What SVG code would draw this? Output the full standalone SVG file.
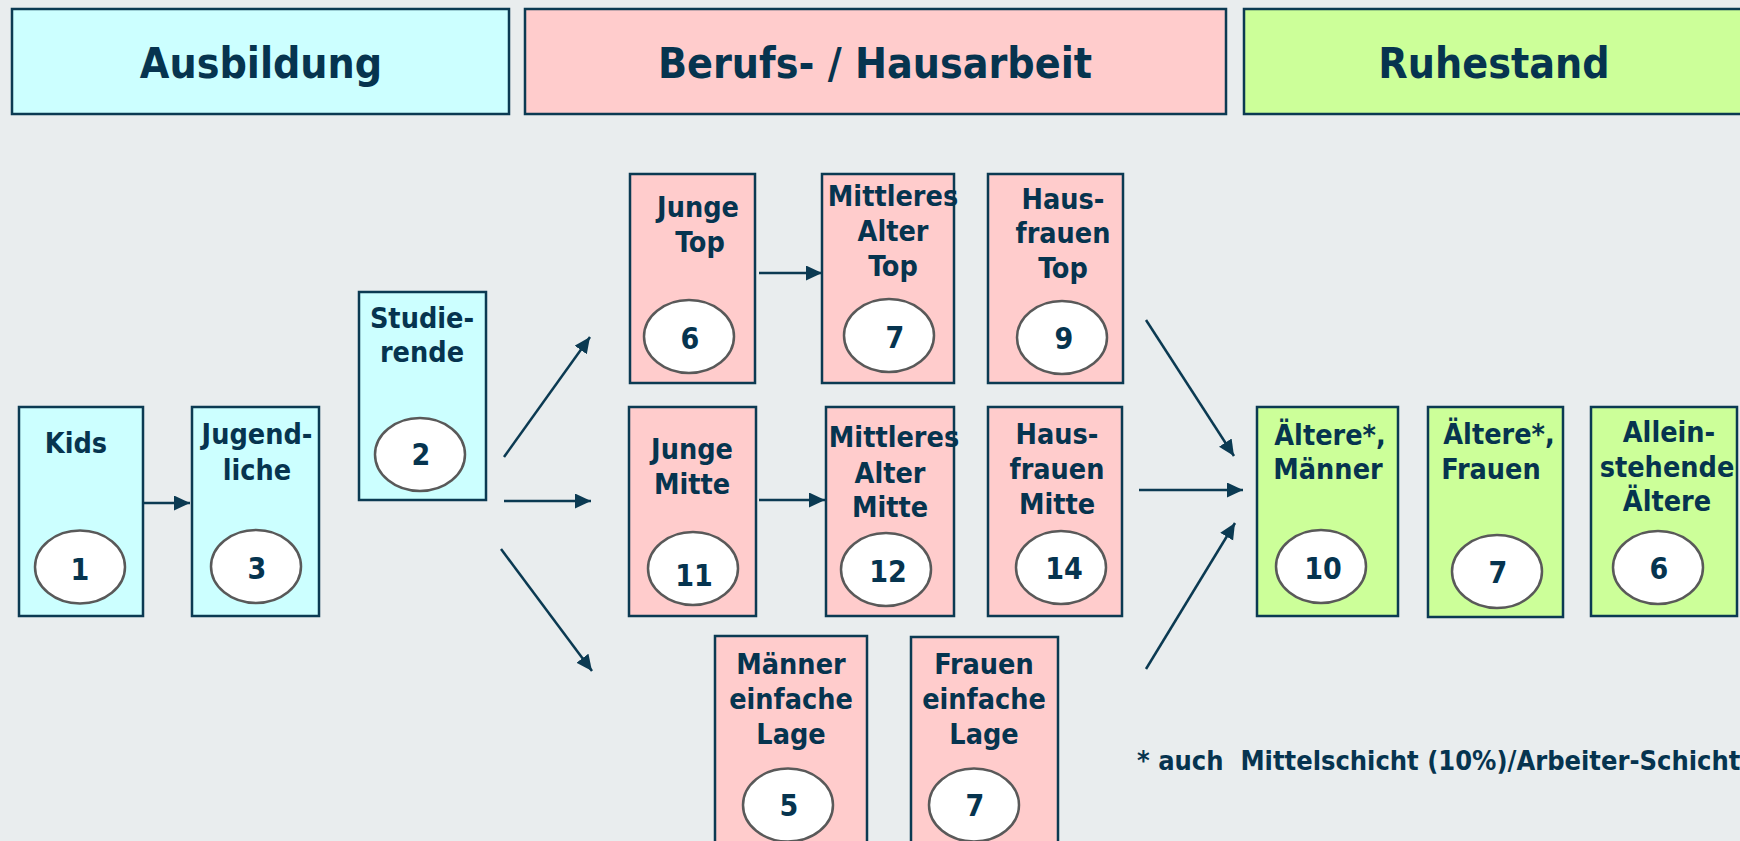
<svg xmlns="http://www.w3.org/2000/svg" width="1740" height="841" viewBox="0 0 1740 841">
<defs>
<style>
.bg{fill:#e9edee}
.box{stroke:#0b3a52;stroke-width:2.5}
.cy{fill:#ccffff}
.pk{fill:#ffcccc}
.gr{fill:#ccff99}
.t{font-family:"DejaVu Sans Condensed","DejaVu Sans",sans-serif;font-weight:bold;fill:#06344f;text-anchor:middle}
.h{font-size:42.5px}
.n{font-size:28.5px}
.num{font-size:30px}
.fn{font-size:27px;text-anchor:start;white-space:pre}
.el{fill:#ffffff;stroke:#595959;stroke-width:2.5}
.ar{stroke:#0b3a52;stroke-width:2.5;fill:none;marker-end:url(#ah)}
</style>
<marker id="ah" markerUnits="userSpaceOnUse" markerWidth="17" markerHeight="16" refX="16" refY="7.5" orient="auto">
<path d="M0,0 L16,7.5 L0,15 z" fill="#0b3a52"/>
</marker>
</defs>
<rect class="bg" x="0" y="0" width="1740" height="841"/>

<g id="header-ausbildung"><rect class="box cy" x="12" y="9" width="497" height="105"/><text class="t h" x="261" y="78">Ausbildung</text></g>
<g id="header-beruf"><rect class="box pk" x="525" y="9" width="701" height="105"/><text class="t h" x="875" y="78">Berufs- / Hausarbeit</text></g>
<g id="header-ruhestand"><rect class="box gr" x="1244" y="9" width="510" height="105"/><text class="t h" x="1494" y="78">Ruhestand</text></g>

<g id="kids"><rect class="box cy" x="19" y="407" width="124" height="209"/><text class="t n" x="76" y="453">Kids</text><ellipse class="el" cx="80" cy="567" rx="45" ry="36.5"/><text class="t num" x="80" y="580">1</text></g>
<g id="jugendliche"><rect class="box cy" x="192" y="407" width="127" height="209"/><text class="t n" x="257" y="444">Jugend-</text><text class="t n" x="257" y="480">liche</text><ellipse class="el" cx="256" cy="566.5" rx="45" ry="36.5"/><text class="t num" x="257" y="579">3</text></g>
<g id="studierende"><rect class="box cy" x="359" y="292" width="127" height="208"/><text class="t n" x="422" y="328">Studie-</text><text class="t n" x="422" y="362">rende</text><ellipse class="el" cx="420" cy="454.5" rx="45" ry="36.5"/><text class="t num" x="421" y="465">2</text></g>

<g id="junge-top"><rect class="box pk" x="630" y="174" width="125" height="209"/><text class="t n" x="698" y="217">Junge</text><text class="t n" x="700" y="252">Top</text><ellipse class="el" cx="689" cy="336.5" rx="45" ry="36.5"/><text class="t num" x="690" y="349">6</text></g>
<g id="mittleres-top"><rect class="box pk" x="822" y="174" width="132" height="209"/><text class="t n" x="893" y="206">Mittleres</text><text class="t n" x="893" y="241">Alter</text><text class="t n" x="893" y="276">Top</text><ellipse class="el" cx="889" cy="335.5" rx="45" ry="36.5"/><text class="t num" x="895" y="348">7</text></g>
<g id="hausfrauen-top"><rect class="box pk" x="988" y="174" width="135" height="209"/><text class="t n" x="1063" y="209">Haus-</text><text class="t n" x="1063" y="243">frauen</text><text class="t n" x="1063" y="278">Top</text><ellipse class="el" cx="1062" cy="337.5" rx="45" ry="36.5"/><text class="t num" x="1064" y="349">9</text></g>

<g id="junge-mitte"><rect class="box pk" x="629" y="407" width="127" height="209"/><text class="t n" x="692" y="459">Junge</text><text class="t n" x="692" y="494">Mitte</text><ellipse class="el" cx="693" cy="568.5" rx="45" ry="36.5"/><text class="t num" x="694" y="586">11</text></g>
<g id="mittleres-mitte"><rect class="box pk" x="826" y="407" width="128" height="209"/><text class="t n" x="894" y="447">Mittleres</text><text class="t n" x="890" y="483">Alter</text><text class="t n" x="890" y="517">Mitte</text><ellipse class="el" cx="886" cy="569.5" rx="45" ry="36.5"/><text class="t num" x="888" y="582">12</text></g>
<g id="hausfrauen-mitte"><rect class="box pk" x="988" y="407" width="134" height="209"/><text class="t n" x="1057" y="444">Haus-</text><text class="t n" x="1057" y="479">frauen</text><text class="t n" x="1057" y="514">Mitte</text><ellipse class="el" cx="1061" cy="567.5" rx="45" ry="36.5"/><text class="t num" x="1064" y="579">14</text></g>

<g id="maenner-einfach"><rect class="box pk" x="715" y="636" width="152" height="215"/><text class="t n" x="791" y="674">Männer</text><text class="t n" x="791" y="709">einfache</text><text class="t n" x="791" y="744">Lage</text><ellipse class="el" cx="788" cy="805" rx="45" ry="36.5"/><text class="t num" x="789" y="816">5</text></g>
<g id="frauen-einfach"><rect class="box pk" x="911" y="637" width="147" height="214"/><text class="t n" x="984" y="674">Frauen</text><text class="t n" x="984" y="709">einfache</text><text class="t n" x="984" y="744">Lage</text><ellipse class="el" cx="974" cy="805" rx="45" ry="36.5"/><text class="t num" x="975" y="816">7</text></g>

<g id="aeltere-maenner"><rect class="box gr" x="1257" y="407" width="141" height="209"/><text class="t n" x="1330" y="445">Ältere*,</text><text class="t n" x="1328" y="479">Männer</text><ellipse class="el" cx="1321" cy="566.5" rx="45" ry="36.5"/><text class="t num" x="1323" y="579">10</text></g>
<g id="aeltere-frauen"><rect class="box gr" x="1428" y="407" width="135" height="210"/><text class="t n" x="1499" y="444">Ältere*,</text><text class="t n" x="1491" y="479">Frauen</text><ellipse class="el" cx="1497" cy="571.5" rx="45" ry="36.5"/><text class="t num" x="1498" y="583">7</text></g>
<g id="alleinstehende"><rect class="box gr" x="1591" y="407" width="146" height="209"/><text class="t n" x="1669" y="442">Allein-</text><text class="t n" x="1667" y="477">stehende</text><text class="t n" x="1667" y="511">Ältere</text><ellipse class="el" cx="1658" cy="567.5" rx="45" ry="36.5"/><text class="t num" x="1659" y="579">6</text></g>

<g id="connectors">
<line class="ar" x1="144" y1="503" x2="190" y2="503"/>
<line class="ar" x1="504" y1="457" x2="590" y2="337"/>
<line class="ar" x1="504" y1="501" x2="591" y2="501"/>
<line class="ar" x1="501" y1="549" x2="592" y2="671"/>
<line class="ar" x1="759" y1="273" x2="822" y2="273"/>
<line class="ar" x1="759" y1="500" x2="825" y2="500"/>
<line class="ar" x1="1146" y1="320" x2="1234" y2="456"/>
<line class="ar" x1="1139" y1="490" x2="1243" y2="490"/>
<line class="ar" x1="1146" y1="669" x2="1235" y2="523"/>
</g>

<text class="t fn" x="1137" y="770" xml:space="preserve">* auch  Mittelschicht (10%)/Arbeiter-Schicht</text>
</svg>
